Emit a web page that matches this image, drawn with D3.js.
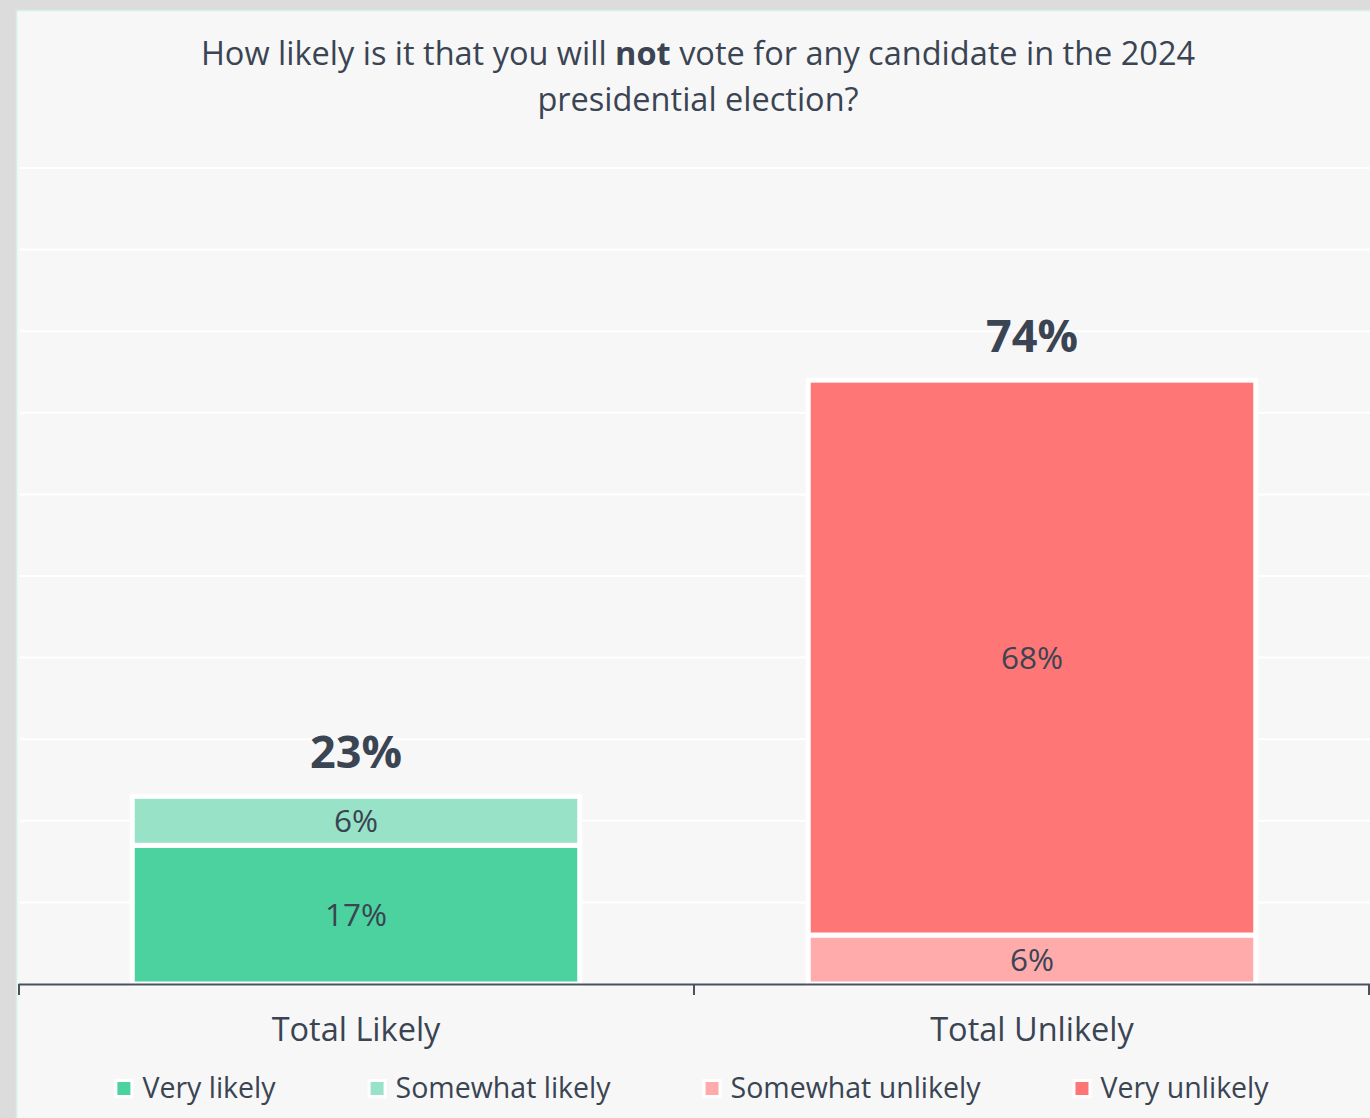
<!DOCTYPE html>
<html>
<head>
<meta charset="utf-8">
<script src="https://cdn.jsdelivr.net/npm/d3@7"></script>
<style>
  html, body { margin: 0; padding: 0; background: #f7f7f7; }
  svg { display: block; }
  text { font-family: "Open Sans", "Noto Sans", sans-serif; fill: #3a4452; }
</style>
</head>
<body>
<div id="chart"></div>
<script>
// chart data
const categories = ['Total Likely', 'Total Unlikely']
const seriesNames = ['Very likely', 'Somewhat likely', 'Somewhat unlikely', 'Very unlikely']
const veryLikely = [17, 0]
const somewhatLikely = [6, 0]
const somewhatUnlikely = [0, 6]
const veryUnlikely = [0, 68]
const totals = [23, 74]
const yTicks = [10, 20, 30, 40, 50, 60, 70, 80, 90, 100]
const colors = ['#4bd29f', '#98e2c7', '#ffabab', '#ff7676']

const W = 1370, H = 1118
const margin = {top: 168, right: 0, bottom: 134, left: 18}

const svg = d3.select('#chart').append('svg')
    .attr('width', W)
    .attr('height', H)

// background + frame
svg.append('rect').attr('width', W).attr('height', H).attr('fill', '#f7f7f7')
svg.append('rect').attr('x', 0).attr('y', 0).attr('width', W).attr('height', 10).attr('fill', '#dcdcdc')
svg.append('rect').attr('x', 0).attr('y', 0).attr('width', 16).attr('height', H).attr('fill', '#dcdcdc')
svg.append('path').attr('d', 'M16.5,' + H + 'V10.5H' + W)
    .attr('fill', 'none').attr('stroke', '#d6efe6').attr('stroke-width', 1.5)

const x = d3.scaleBand()
    .domain(categories)
    .range([margin.left, W - margin.right])
    .paddingInner(0).paddingOuter(0)

const y = d3.scaleLinear()
    .domain([0, 100])
    .range([H - margin.bottom, margin.top])

const barW = x.bandwidth() * 0.662

// gridlines
svg.append('g').selectAll('line')
    .data(yTicks)
    .enter()
    .append('line')
    .attr('x1', margin.left + 2)
    .attr('x2', W)
    .attr('y1', d => y(d))
    .attr('y2', d => y(d))
    .attr('stroke', '#ffffff')
    .attr('stroke-width', 2)

// stacked data
const rows = categories.map((c, i) => ({
    cat: c,
    'Very likely': veryLikely[i],
    'Somewhat likely': somewhatLikely[i],
    'Somewhat unlikely': somewhatUnlikely[i],
    'Very unlikely': veryUnlikely[i]
}))
const stackOrder = ['Very likely', 'Somewhat likely', 'Somewhat unlikely', 'Very unlikely']
const stacked = d3.stack().keys(stackOrder)(rows)
const color = d3.scaleOrdinal().domain(seriesNames).range(colors)

const layers = svg.append('g').selectAll('g')
    .data(stacked)
    .enter()
    .append('g')
    .attr('fill', d => color(d.key))

layers.selectAll('rect')
    .data(d => d.filter(s => s[1] - s[0] > 0))
    .enter()
    .append('rect')
    .attr('x', d => x(d.data.cat) + (x.bandwidth() - barW) / 2)
    .attr('y', d => y(d[1]))
    .attr('width', barW)
    .attr('height', d => y(d[0]) - y(d[1]))
    .attr('stroke', '#ffffff')
    .attr('stroke-width', 5)

layers.selectAll('text')
    .data(d => d.filter(s => s[1] - s[0] > 0))
    .enter()
    .append('text')
    .attr('x', d => x(d.data.cat) + x.bandwidth() / 2)
    .attr('y', d => (y(d[0]) + y(d[1])) / 2)
    .attr('dy', '0.36em')
    .attr('text-anchor', 'middle')
    .attr('font-size', 31.5)
    .text(d => (d[1] - d[0]) + '%')

// totals
svg.append('g').selectAll('text')
    .data(categories)
    .enter()
    .append('text')
    .attr('x', d => x(d) + x.bandwidth() / 2)
    .attr('y', (d, i) => y(totals[i]) - 28)
    .attr('text-anchor', 'middle')
    .attr('font-size', 45)
    .attr('font-weight', 'bold')
    .text((d, i) => totals[i] + '%')

// x axis
const xAxis = svg.append('g')
    .attr('transform', 'translate(0,' + y(0) + ')')
    .call(d3.axisBottom(x).tickSize(0).tickPadding(34))
xAxis.select('.domain').attr('stroke', '#4a5260').attr('stroke-width', 2)
xAxis.selectAll('text').attr('font-size', 32.5).attr('fill', '#3a4452').attr('font-family', '"Open Sans"')
xAxis.selectAll('.sep')
    .data([margin.left + 1, x(categories[1]), W - 1])
    .enter()
    .append('line')
    .attr('x1', d => d).attr('x2', d => d)
    .attr('y1', 0).attr('y2', 11)
    .attr('stroke', '#4a5260').attr('stroke-width', 2)

// title
const title = svg.append('text')
    .attr('text-anchor', 'middle')
    .attr('font-size', 32.5)
title.append('tspan').attr('x', 698).attr('y', 65).text('How likely is it that you will ')
title.append('tspan').attr('font-weight', 'bold').text('not')
title.append('tspan').text(' vote for any candidate in the 2024')
title.append('tspan').attr('x', 698).attr('y', 111).text('presidential election?')

// legend
const legend = svg.append('g').attr('transform', 'translate(0,1088)')
const items = legend.selectAll('g')
    .data(seriesNames)
    .enter()
    .append('g')
items.append('rect')
    .attr('x', -3).attr('y', -9).attr('width', 19).attr('height', 19)
    .attr('fill', '#ffffff')
items.append('rect')
    .attr('x', 0).attr('y', -6).attr('width', 13).attr('height', 13)
    .attr('fill', d => color(d))
items.append('text')
    .attr('x', 25)
    .attr('dy', '0.36em')
    .attr('font-size', 28.5)
    .text(d => d)

const gap = 95
let widths = []
items.each(function () { widths.push(25 + d3.select(this).select('text').node().getComputedTextLength()) })
const totalW = d3.sum(widths) + gap * (widths.length - 1)
let cx = 693 - totalW / 2
items.attr('transform', (d, i) => {
    const t = 'translate(' + cx + ',0)'
    cx += widths[i] + gap
    return t
})
</script>
</body>
</html>
